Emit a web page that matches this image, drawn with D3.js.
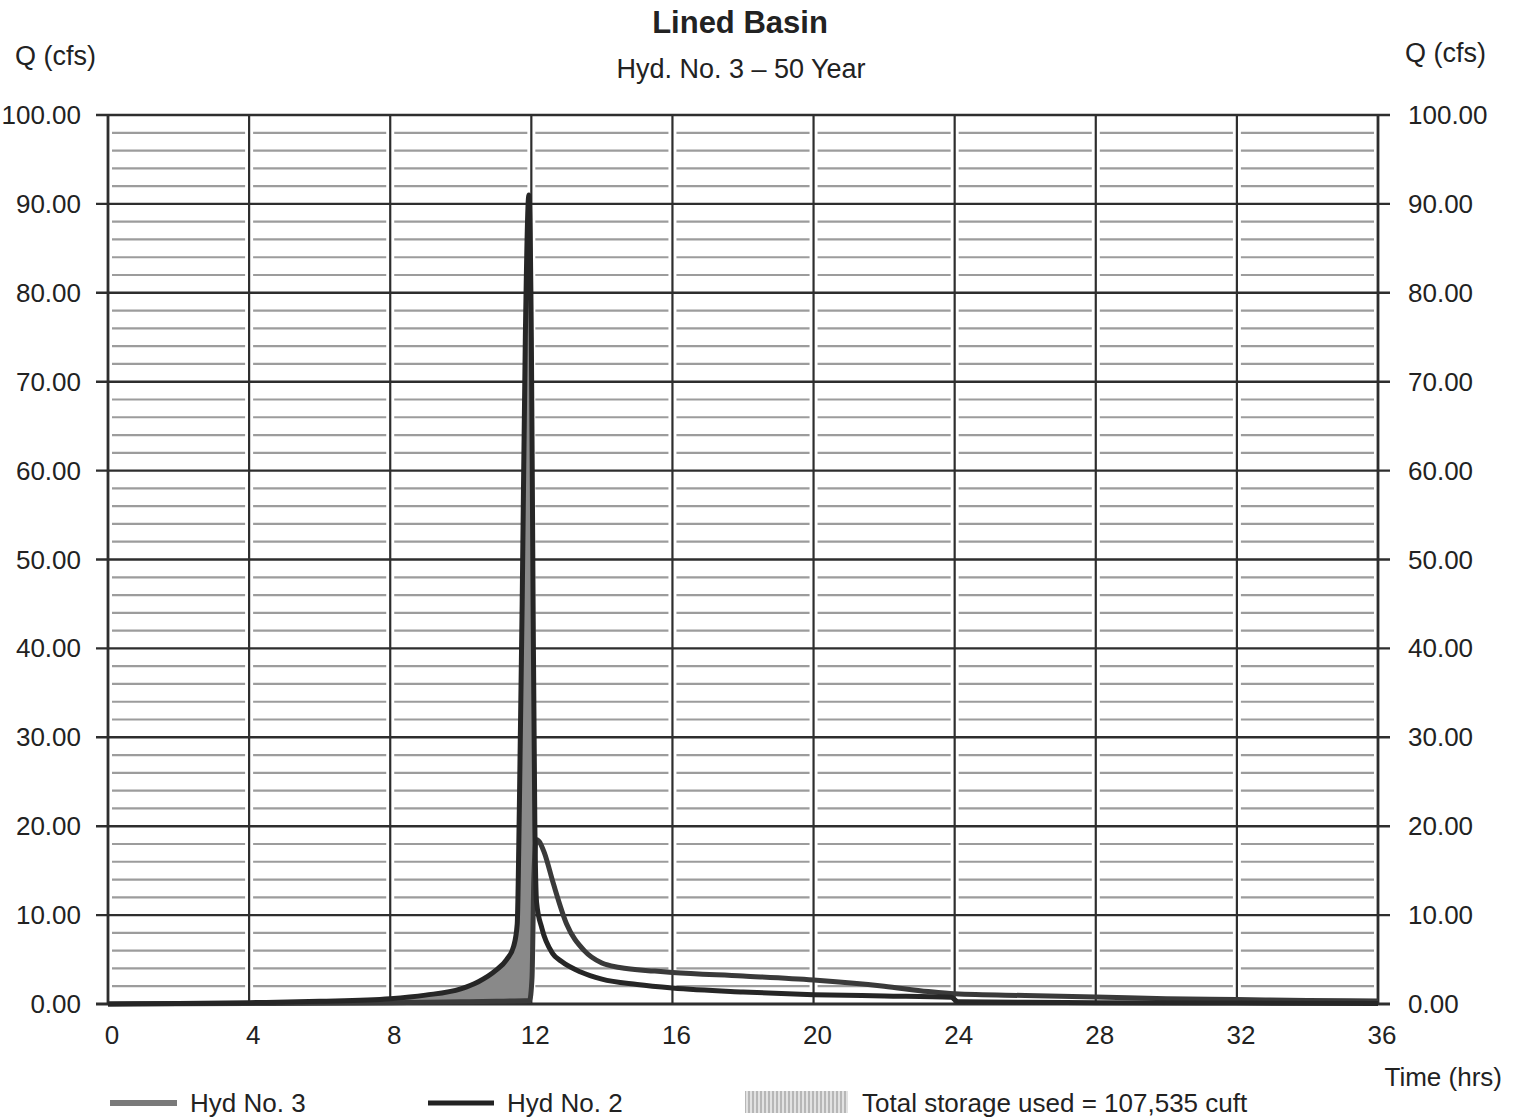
<!DOCTYPE html>
<html>
<head>
<meta charset="utf-8">
<script src="https://d3js.org/d3.v7.min.js"></script>
<style>
  body { margin: 0; background: #fff; }
  text { font-family: "Liberation Sans", Arial, sans-serif; fill: #222; }
</style>
</head>
<body>
<svg width="1514" height="1117"></svg>
<script>
var width = 1514;
var height = 1117;
var plot = { left: 108, right: 1378, top: 115, bottom: 1004 };

// Hyd No. 2 (inflow) - hours / cfs
var inflowHours = [0, 2, 4, 6, 8, 9, 10, 10.5, 11, 11.3, 11.5, 11.6, 11.66, 11.74, 11.83, 11.93, 12.0, 12.05, 12.1, 12.15, 12.3, 12.6, 12.85, 13.4, 14, 15, 16, 18, 20, 22, 23.9, 24.1, 26, 28, 32, 36];
var inflowCfs   = [0, 0.05, 0.15, 0.3, 0.6, 1.0, 1.7, 2.5, 3.8, 5.0, 6.5, 9, 22, 45, 75, 91, 75, 45, 20, 11.4, 8.5, 5.7, 4.8, 3.6, 2.8, 2.2, 1.8, 1.35, 1.05, 0.9, 0.75, 0.25, 0.2, 0.15, 0.1, 0.05];

// Hyd No. 3 (outflow)
var outflowHours = [0, 4, 8, 10, 11, 11.95, 12.02, 12.07, 12.14, 12.22, 12.37, 12.62, 13.0, 13.5, 14, 14.5, 15.5, 16, 18, 20, 22, 23.25, 24, 26, 28, 30, 32, 34, 36];
var outflowCfs   = [0, 0.05, 0.15, 0.25, 0.3, 0.4, 3, 14, 18.5, 18.3, 17, 13.6, 9, 6, 4.6, 4.1, 3.7, 3.55, 3.15, 2.7, 2.0, 1.4, 1.15, 0.95, 0.8, 0.6, 0.5, 0.4, 0.35];

var hourTicks = [0, 4, 8, 12, 16, 20, 24, 28, 32, 36];
var cfsTicks = [0, 10, 20, 30, 40, 50, 60, 70, 80, 90, 100];
var storageLabel = 'Total storage used = 107,535 cuft';

var inflow = inflowHours.map((h, i) => ({ t: h, q: inflowCfs[i] }));
var outflow = outflowHours.map((h, i) => ({ t: h, q: outflowCfs[i] }));

var xScale = d3.scaleLinear().domain([0, 36]).range([plot.left, plot.right]);
var yScale = d3.scaleLinear().domain([0, 100]).range([plot.bottom, plot.top]);

var svg = d3.select('svg');

// hatch for the storage legend swatch
var pat = svg.append('defs').append('pattern')
  .attr('id', 'hatch')
  .attr('width', 4).attr('height', 4)
  .attr('patternUnits', 'userSpaceOnUse');
pat.append('rect').attr('width', 4).attr('height', 4).attr('fill', '#e2e2e2');
pat.append('line').attr('x1', 1).attr('x2', 1).attr('y1', 0).attr('y2', 4)
  .attr('stroke', '#9a9a9a').attr('stroke-width', 1.2);

// minor grid (every 2 cfs), broken at each vertical line
var minor = d3.range(2, 100, 2).filter(v => v % 10 !== 0);
var cells = d3.range(0, 36, 4);
var gMinor = svg.append('g');
minor.forEach(v => {
  cells.forEach(c => {
    gMinor.append('line')
      .attr('x1', xScale(c) + 4).attr('x2', xScale(c + 4) - 4)
      .attr('y1', yScale(v)).attr('y2', yScale(v))
      .attr('stroke', '#9c9c9c').attr('stroke-width', 2.2);
  });
});

// major horizontal lines, running past the frame as ticks
svg.append('g').selectAll('line').data(cfsTicks).join('line')
  .attr('x1', plot.left - 12).attr('x2', plot.right + 12)
  .attr('y1', d => yScale(d)).attr('y2', d => yScale(d))
  .attr('stroke', '#2e2e2e').attr('stroke-width', d => d === 0 ? 3 : 2.4);

// vertical lines every 4 hrs
svg.append('g').selectAll('line').data(hourTicks).join('line')
  .attr('x1', d => xScale(d)).attr('x2', d => xScale(d))
  .attr('y1', yScale(100)).attr('y2', yScale(0))
  .attr('stroke', '#2e2e2e').attr('stroke-width', d => (d === 0 || d === 36) ? 2.8 : 2.2);

// storage: between inflow and outflow while inflow is higher
var poly = d3.line().x(d => xScale(d.t)).y(d => yScale(d.q));
var line = d3.line().x(d => xScale(d.t)).y(d => yScale(d.q)).curve(d3.curveMonotoneX);
var storagePts = inflow.filter(d => d.t <= 12.1)
  .concat(outflow.filter(d => d.t <= 12.07).reverse());
svg.append('path')
  .attr('d', poly(storagePts) + 'Z')
  .attr('fill', '#898989')
  .attr('stroke', 'none');

svg.append('path')
  .attr('d', line(outflow))
  .attr('fill', 'none')
  .attr('stroke', '#3a3a3a')
  .attr('stroke-width', 5)
  .attr('stroke-linejoin', 'round');

svg.append('path')
  .attr('d', line(inflow))
  .attr('fill', 'none')
  .attr('stroke', '#262626')
  .attr('stroke-width', 5)
  .attr('stroke-linejoin', 'round');

// axis labels
svg.append('g').selectAll('text').data(cfsTicks).join('text')
  .attr('x', 81).attr('y', d => yScale(d) + 9)
  .attr('text-anchor', 'end')
  .style('font-size', '26px')
  .text(d => d.toFixed(2));

svg.append('g').selectAll('text').data(cfsTicks).join('text')
  .attr('x', 1408).attr('y', d => yScale(d) + 9)
  .style('font-size', '26px')
  .text(d => d.toFixed(2));

svg.append('g').selectAll('text').data(hourTicks).join('text')
  .attr('x', d => xScale(d) + 4).attr('y', 1044)
  .attr('text-anchor', 'middle')
  .style('font-size', '26px')
  .text(d => d);

// titles
svg.append('text').attr('x', 740).attr('y', 33)
  .attr('text-anchor', 'middle')
  .style('font-size', '31px').style('font-weight', 'bold')
  .text('Lined Basin');
svg.append('text').attr('x', 741).attr('y', 78)
  .attr('text-anchor', 'middle')
  .style('font-size', '27px')
  .text('Hyd. No. 3 \u2013 50 Year');
svg.append('text').attr('x', 15).attr('y', 65)
  .style('font-size', '27px').text('Q (cfs)');
svg.append('text').attr('x', 1405).attr('y', 62)
  .style('font-size', '27px').text('Q (cfs)');
svg.append('text').attr('x', 1502).attr('y', 1086)
  .attr('text-anchor', 'end')
  .style('font-size', '26px').text('Time (hrs)');

// legend
var legY = 1103;
svg.append('line').attr('x1', 110).attr('x2', 177).attr('y1', legY).attr('y2', legY)
  .attr('stroke', '#7a7a7a').attr('stroke-width', 6);
svg.append('text').attr('x', 190).attr('y', legY + 9)
  .style('font-size', '26px').text('Hyd No. 3');
svg.append('line').attr('x1', 428).attr('x2', 494).attr('y1', legY).attr('y2', legY)
  .attr('stroke', '#222').attr('stroke-width', 5);
svg.append('text').attr('x', 507).attr('y', legY + 9)
  .style('font-size', '26px').text('Hyd No. 2');
svg.append('rect').attr('x', 745).attr('y', legY - 12).attr('width', 103).attr('height', 22)
  .attr('fill', 'url(#hatch)');
svg.append('text').attr('x', 862).attr('y', legY + 9)
  .style('font-size', '26px').text(storageLabel);
</script>
</body>
</html>
